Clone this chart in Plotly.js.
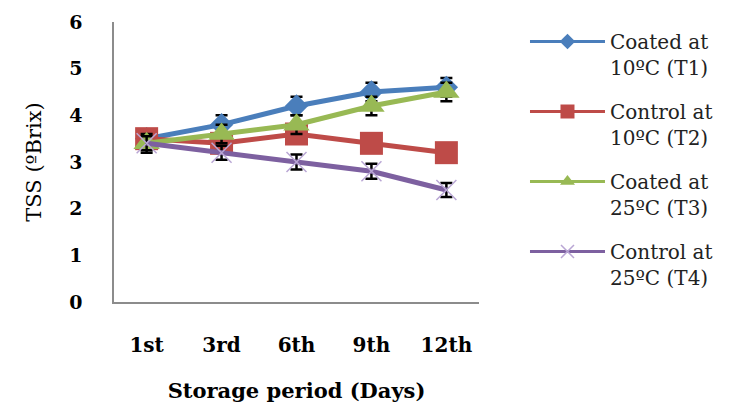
<!DOCTYPE html>
<html><head><meta charset="utf-8">
<script src="https://cdn.plot.ly/plotly-3.0.1.min.js"></script>
<style>body{margin:0;background:#fff}#c{width:737px;height:403px}</style>
</head><body><div id="c"></div>
<script>
const categories = ["1st","3rd","6th","9th","12th"];
const seriesNames = ["Coated at<br>10ºC (T1)","Control at<br>10ºC (T2)","Coated at<br>25ºC (T3)","Control at<br>25ºC (T4)"];
const t1 = [3.5, 3.8, 4.2, 4.5, 4.6];
const t2 = [3.5, 3.4, 3.6, 3.4, 3.2];
const t3 = [3.4, 3.6, 3.8, 4.2, 4.5];
const t4 = [3.4, 3.2, 3.0, 2.8, 2.4];
const err1 = [0.2, 0.2, 0.2, 0.2, 0.2];
const err2 = [0.1, 0.1, 0.1, 0.1, 0.1];
const err3 = [0.2, 0.2, 0.2, 0.2, 0.2];
const err4 = [0.15, 0.15, 0.16, 0.16, 0.15];
const yTicks = [0,1,2,3,4,5,6];

const colors = ["#4A7EBB","#BE4B48","#98B954","#7D60A0"];
const mcolors = ["#4A7EBB","#BE4B48","#98B954","#B9A6D4"];
const symbols = ["diamond","square","triangle-up","x-thin-open"];
const sizes = [18, 23, 23, 20];
const lsizes = [12, 14, 13, 13];
const data = [t1,t2,t3,t4];
const errs = [err1,err2,err3,err4];

const traces = data.map((y,i)=>({
  x: categories, y: y, type: "scatter", mode: "lines+markers",
  name: seriesNames[i], showlegend: false,
  line: {color: colors[i], width: 5},
  marker: {symbol: symbols[i], size: sizes[i], color: mcolors[i],
           line: {color: mcolors[i], width: i===3 ? 1.5 : 0}},
  error_y: {type: "data", array: errs[i], visible: true, color: "#000", thickness: 2.5, width: 6}
}));
// legend-only entries (thinner lines and smaller markers, as in the reference legend)
seriesNames.forEach((n,i)=>traces.push({
  x: [null], y: [null], type: "scatter", mode: "lines+markers",
  name: n, legendgroup: "g"+i, showlegend: true,
  line: {color: colors[i], width: 3},
  marker: {symbol: symbols[i], size: lsizes[i], color: mcolors[i],
           line: {color: mcolors[i], width: i===3 ? 1.5 : 0}}
}));

const serif = "'DejaVu Serif', serif";
Plotly.newPlot("c", traces, {
  width: 737, height: 403,
  margin: {l: 114, r: 258, t: 22, b: 101},
  paper_bgcolor: "#fff", plot_bgcolor: "#fff",
  showlegend: true,
  legend: {x: 1.126, y: 1.0, xanchor: "left", yanchor: "top",
           font: {family: serif, size: 20, color: "#222"},
           itemwidth: 75, tracegroupgap: 15, valign: "top", maxheight: 400,
           bgcolor: "rgba(0,0,0,0)"},
  xaxis: {type: "category", showline: true, linecolor: "#8C8C8C", linewidth: 1.5,
          showgrid: false, zeroline: false, ticks: "", ticklabelstandoff: 24,
          tickfont: {family: serif, size: 20, color: "#000", weight: "bold"},
          title: {text: "Storage period (Days)", font: {family: serif, size: 21, color: "#000", weight: "bold"}, standoff: 28}},
  yaxis: {range: [0, 6], tickvals: yTicks, showline: true, linecolor: "#8C8C8C", linewidth: 1.5,
          showgrid: false, zeroline: false, ticks: "", ticklabelstandoff: 26,
          tickfont: {family: serif, size: 19, color: "#000", weight: "bold"},
          title: {text: "TSS (ºBrix)", font: {family: serif, size: 21, color: "#000"}, standoff: 22}}
}, {displayModeBar: false});
</script></body></html>
